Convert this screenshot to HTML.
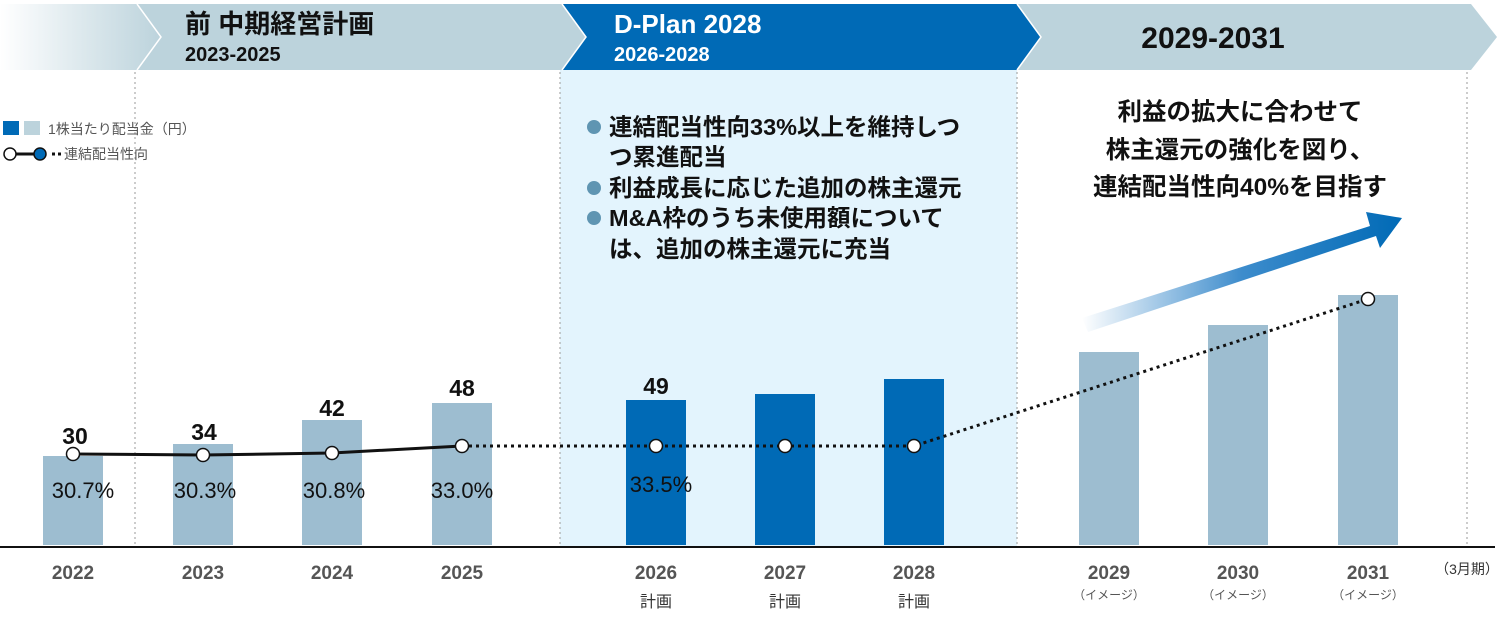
<!DOCTYPE html>
<html><head><meta charset="utf-8"><style>
body{margin:0;width:1499px;height:614px;overflow:hidden;background:#fff;font-family:"Liberation Sans","Noto Sans CJK JP",sans-serif}
svg text{font-family:"Liberation Sans","Noto Sans CJK JP",sans-serif}
</style></head><body>
<svg width="1499" height="614" viewBox="0 0 1499 614">
<defs>
<linearGradient id="g0" x1="0" x2="1"><stop offset="0" stop-color="#fff"/><stop offset="1" stop-color="#bcd3dc"/></linearGradient>
<linearGradient id="ga" x1="0" x2="1"><stop offset="0" stop-color="#fff"/><stop offset="0.5" stop-color="#3d8ccc"/><stop offset="1" stop-color="#006ab6"/></linearGradient>
</defs>
<rect x="560" y="70" width="457" height="477" fill="#e3f4fd"/>
<polygon points="0,4 137,4 161,37 137,70 0,70" fill="url(#g0)"/>
<polygon points="137,4 562,4 586,37 562,70 137,70 161,37" fill="#bcd3dc"/>
<polygon points="562,4 1017,4 1041,37 1017,70 562,70 586,37" fill="#006ab6"/>
<polygon points="1017,4 1471,4 1497,37 1471,70 1017,70 1041,37" fill="#bcd3dc"/>
<polyline points="137,4 161,37 137,70" fill="none" stroke="#fff" stroke-width="1.5"/>
<polyline points="562,4 586,37 562,70" fill="none" stroke="#fff" stroke-width="1.5"/>
<polyline points="1017,4 1041,37 1017,70" fill="none" stroke="#fff" stroke-width="1.5"/>
<text x="185" y="33" font-size="26" font-weight="bold" fill="#111">前 中期経営計画</text>
<text x="185" y="61" font-size="20" font-weight="bold" fill="#111">2023-2025</text>
<text x="614" y="33" font-size="26" font-weight="bold" fill="#fff">D-Plan 2028</text>
<text x="614" y="61" font-size="20" font-weight="bold" fill="#fff">2026-2028</text>
<text x="1213" y="48" font-size="30" font-weight="bold" fill="#111" text-anchor="middle">2029-2031</text>
<g stroke="#aaa" stroke-width="1.2" stroke-dasharray="2,3">
<line x1="135" y1="72" x2="135" y2="545"/><line x1="560" y1="72" x2="560" y2="545"/><line x1="1017" y1="72" x2="1017" y2="545"/><line x1="1467" y1="72" x2="1467" y2="545"/>
</g>
<rect x="3" y="121" width="16" height="14" fill="#006ab6"/><rect x="24" y="121" width="16" height="14" fill="#bcd3dc"/>
<text x="48" y="134" font-size="14" fill="#555">1株当たり配当金（円）</text>
<line x1="10" y1="154" x2="40" y2="154" stroke="#111" stroke-width="3"/>
<circle cx="10" cy="154" r="6" fill="#fff" stroke="#111" stroke-width="1.5"/><circle cx="40" cy="154" r="6" fill="#006ab6" stroke="#111" stroke-width="1.5"/>
<line x1="52" y1="154" x2="62" y2="154" stroke="#111" stroke-width="3" stroke-dasharray="3,3"/>
<text x="64" y="159" font-size="14" fill="#555">連結配当性向</text>
<g font-size="23.5" font-weight="bold" fill="#111">
<circle cx="594" cy="127" r="7" fill="#5f95b2"/><text x="609" y="135">連結配当性向33%以上を維持しつ</text>
<text x="609" y="165">つ累進配当</text>
<circle cx="594" cy="188" r="7" fill="#5f95b2"/><text x="609" y="196">利益成長に応じた追加の株主還元</text>
<circle cx="594" cy="218" r="7" fill="#5f95b2"/><text x="609" y="226">M&amp;A枠のうち未使用額について</text>
<text x="609" y="257">は、追加の株主還元に充当</text>
</g>
<g font-size="24.5" font-weight="bold" fill="#111" text-anchor="middle">
<text x="1240" y="120">利益の拡大に合わせて</text>
<text x="1240" y="158">株主還元の強化を図り、</text>
<text x="1240" y="195">連結配当性向40%を目指す</text>
</g>
<polygon points="1082,318 1370,226 1366,212 1402,218 1380,248 1376,236 1088,332" fill="url(#ga)"/>
<g fill="#9dbdd0">
<rect x="43" y="456" width="60" height="89"/><rect x="173" y="444" width="60" height="101"/><rect x="302" y="420" width="60" height="125"/><rect x="432" y="403" width="60" height="142"/>
<rect x="1079" y="352" width="60" height="193"/><rect x="1208" y="325" width="60" height="220"/><rect x="1338" y="295" width="60" height="250"/>
</g>
<g fill="#006ab6"><rect x="626" y="400" width="60" height="145"/><rect x="755" y="394" width="60" height="151"/><rect x="884" y="379" width="60" height="166"/></g>
<line x1="0" y1="547" x2="1495" y2="547" stroke="#111" stroke-width="2"/>
<polyline points="73,454 203,455 332,453 462,446" fill="none" stroke="#111" stroke-width="3"/>
<polyline points="462,446 656,446 785,446 914,446 1368,299" fill="none" stroke="#111" stroke-width="3" stroke-dasharray="3,4"/>
<g fill="#fff" stroke="#111" stroke-width="1.5">
<circle cx="73" cy="454" r="6.5"/><circle cx="203" cy="455" r="6.5"/><circle cx="332" cy="453" r="6.5"/><circle cx="462" cy="446" r="6.5"/><circle cx="656" cy="446" r="6.5"/><circle cx="785" cy="446" r="6.5"/><circle cx="914" cy="446" r="6.5"/><circle cx="1368" cy="299" r="6.5"/>
</g>
<g font-size="23" font-weight="bold" fill="#111" text-anchor="middle">
<text x="75" y="444">30</text><text x="204" y="440">34</text><text x="332" y="416">42</text><text x="462" y="396">48</text><text x="656" y="394">49</text>
</g>
<g font-size="22" fill="#111" text-anchor="middle">
<text x="83" y="498">30.7%</text><text x="205" y="498">30.3%</text><text x="334" y="498">30.8%</text><text x="462" y="498">33.0%</text><text x="661" y="492">33.5%</text>
</g>
<g font-size="19" font-weight="bold" fill="#555" text-anchor="middle">
<text x="73" y="579">2022</text><text x="203" y="579">2023</text><text x="332" y="579">2024</text><text x="462" y="579">2025</text>
<text x="656" y="579">2026</text><text x="785" y="579">2027</text><text x="914" y="579">2028</text>
<text x="1109" y="579">2029</text><text x="1238" y="579">2030</text><text x="1368" y="579">2031</text>
</g>
<g font-size="16" fill="#333" text-anchor="middle"><text x="656" y="607">計画</text><text x="785" y="607">計画</text><text x="914" y="607">計画</text></g>
<g font-size="12" fill="#555" text-anchor="middle"><text x="1109" y="599">（イメージ）</text><text x="1238" y="599">（イメージ）</text><text x="1368" y="599">（イメージ）</text></g>
<text x="1467" y="574" font-size="14" fill="#333" text-anchor="middle">（3月期）</text>
</svg>
</body></html>
